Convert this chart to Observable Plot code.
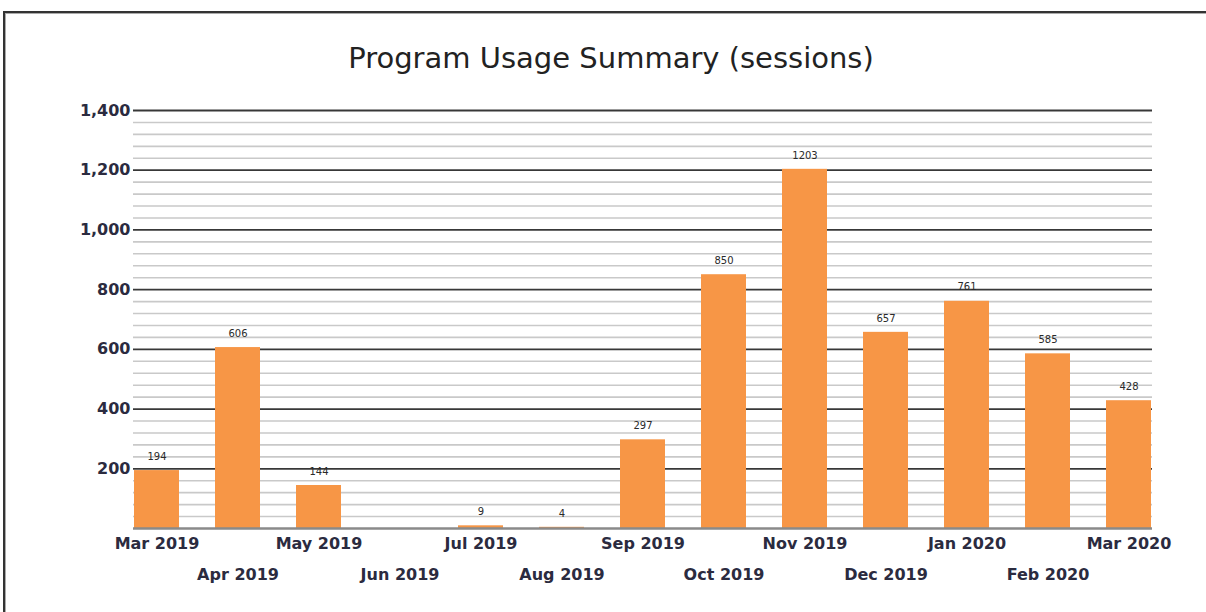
<!DOCTYPE html>
<html>
<head>
<meta charset="utf-8">
<script src="https://cdn.jsdelivr.net/npm/d3@7"></script>
<script src="https://cdn.jsdelivr.net/npm/@observablehq/plot@0.6"></script>
<style>
  html, body { margin: 0; padding: 0; background: #fff; overflow: hidden; }
  #frame { position: absolute; left: 3px; top: 11px; width: 1300px; height: 700px;
           border-top: 2px solid #333; border-left: 2px solid #333;
           box-shadow: inset 1px 1px 0 #aaa; }
  #title { position: absolute; left: 0; width: 1222px; top: 41px; text-align: center;
           font-family: "DejaVu Sans", sans-serif; font-size: 29px; color: #222; }
  #chart { position: absolute; left: 0; top: 80px; }
</style>
</head>
<body>
<div id="frame"></div>
<div id="title">Program Usage Summary (sessions)</div>
<div id="chart"></div>
<script>
const months = ["Mar 2019","Apr 2019","May 2019","Jun 2019","Jul 2019","Aug 2019","Sep 2019",
                "Oct 2019","Nov 2019","Dec 2019","Jan 2020","Feb 2020","Mar 2020"];
const sessions = [194, 606, 144, 0, 9, 4, 297, 850, 1203, 657, 761, 585, 428];
const yTickLabels = [200, 400, 600, 800, 1000, 1200, 1400];

const data = months.map((m, i) => ({month: m, value: sessions[i]}));
const majorGrid = yTickLabels;
const minorGrid = d3.range(40, 1401, 40).filter(v => v % 200 !== 0);
const rowA = months.filter((m, i) => i % 2 === 0);
const rowB = months.filter((m, i) => i % 2 === 1);

const font = "DejaVu Sans, sans-serif";
const chart = Plot.plot({
  width: 1206,
  height: 530,
  marginTop: 30,
  marginBottom: 82,
  marginLeft: 133,
  marginRight: 54,
  style: {fontFamily: font, background: "transparent"},
  x: {type: "band", domain: months, paddingInner: 0.44, paddingOuter: 0, axis: null},
  y: {domain: [0, 1400], axis: null},
  marks: [
    Plot.ruleY(minorGrid, {stroke: "#c9c9c9", strokeWidth: 1.6}),
    Plot.ruleY(majorGrid, {stroke: "#383838", strokeWidth: 1.8}),
    Plot.barY(data, {x: "month", y: "value", fill: "#F79646"}),
    Plot.ruleY([0], {stroke: "#8a8a8a", strokeWidth: 2.5}),
    Plot.text(data.filter(d => d.value > 0), {x: "month", y: "value", text: d => String(d.value),
      dy: -14, fontSize: 10, fill: "#2a2a2a"}),
    Plot.axisY({ticks: yTickLabels, tickSize: 0, tickPadding: 3, fontSize: 16, fontWeight: "bold",
      color: "#2b2b3f", label: null, tickFormat: d => d3.format(",")(d)}),
    Plot.axisX({ticks: rowA, tickSize: 0, tickPadding: 9, fontSize: 16, fontWeight: "bold",
      color: "#2b2b3f", label: null}),
    Plot.axisX({ticks: rowB, tickSize: 0, tickPadding: 40, fontSize: 16, fontWeight: "bold",
      color: "#2b2b3f", label: null})
  ]
});
document.getElementById("chart").append(chart);
</script>
</body>
</html>
